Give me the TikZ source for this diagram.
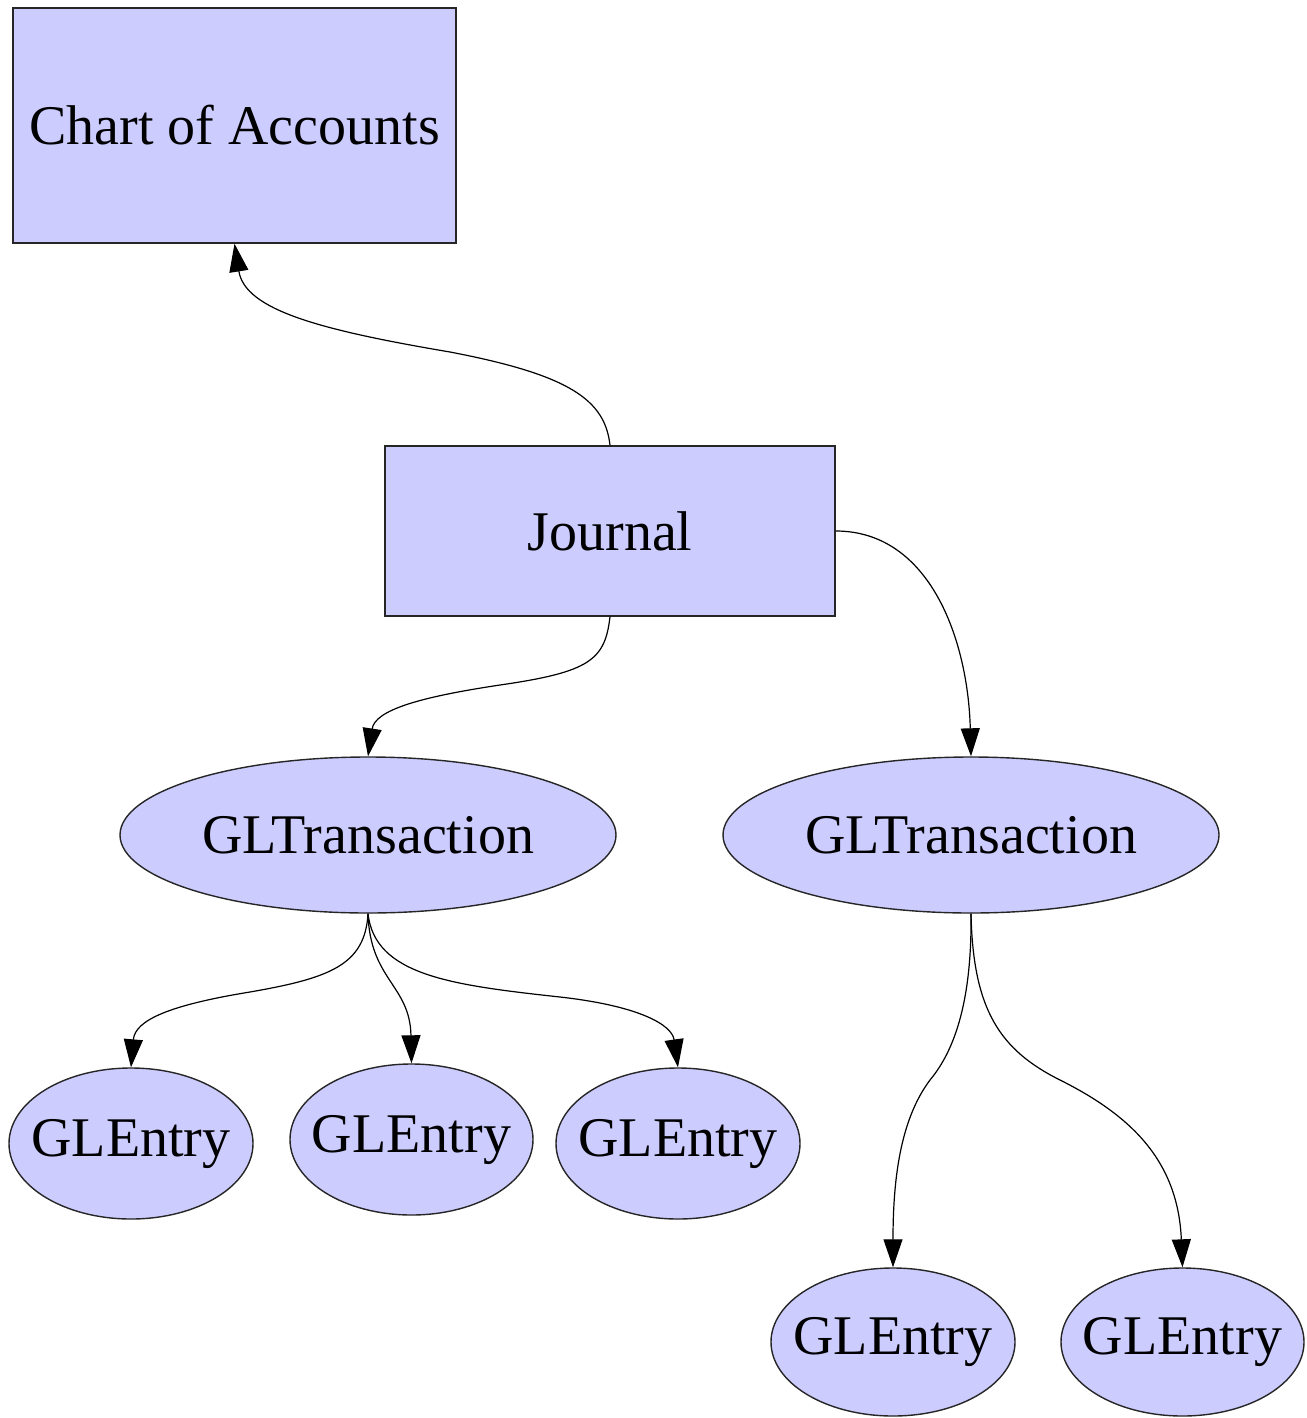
\documentclass[tikz,border=0pt]{standalone}
\usepackage{fontspec}
\setmainfont{Liberation Serif}
\usetikzlibrary{shapes.geometric,arrows.meta}
\definecolor{nodefill}{RGB}{204,204,255}
\newcommand{\ztext}[1]{\makebox[0pt]{#1}}
\begin{document}
\begin{tikzpicture}[x=1pt,y=-1pt,
  base/.style={draw=black!85, line width=1.4pt, fill=nodefill, inner sep=0pt,
    font=\fontsize{56}{60}\selectfont},
  boxnode/.style={base, rectangle},
  ellnode/.style={base, ellipse},
  edge/.style={draw=black, line width=1.2pt, -{Triangle[length=28pt,width=19pt]}}]
\useasboundingbox (0,0) rectangle (1306,1418);
\node[boxnode, minimum width=443pt, minimum height=235pt] (chart) at (234.5,125.5) {Chart of Accounts};
\node[boxnode, minimum width=450pt, minimum height=170pt] (journal) at (610,531) {Journal};
\node[ellnode, minimum width=496pt, minimum height=156pt] (gt1) at (368,835) {\ztext{GLTransaction}};
\node[ellnode, minimum width=496pt, minimum height=156pt] (gt2) at (971,835) {\ztext{GLTransaction}};
\node[ellnode, minimum width=244pt, minimum height=151pt] (e1) at (131,1143.5) {\ztext{GLEntry}};
\node[ellnode, minimum width=243pt, minimum height=151pt] (e2) at (411.5,1139.5) {\ztext{GLEntry}};
\node[ellnode, minimum width=244pt, minimum height=151pt] (e3) at (678,1143.5) {\ztext{GLEntry}};
\node[ellnode, minimum width=244pt, minimum height=148pt] (e4) at (893,1342) {\ztext{GLEntry}};
\node[ellnode, minimum width=243pt, minimum height=148pt] (e5) at (1182.5,1342) {\ztext{GLEntry}};
\draw[edge] (journal.north) .. controls (605,400) and (570,375) .. (450,352)
  .. controls (320,330) and (245,310) .. (chart.south);
\draw[edge] (journal.south) .. controls (605,660) and (590,672) .. (500,685)
  .. controls (420,697) and (375,710) .. (gt1.north);
\draw[edge] (journal.east) .. controls (930,531) and (968,640) .. (gt2.north);
\draw[edge] (gt1.south) .. controls (365,965) and (330,978) .. (250,992)
  .. controls (170,1005) and (135,1020) .. (e1.north);
\draw[edge] (gt1.south) .. controls (370,980) and (410,985) .. (e2.north);
\draw[edge] (gt1.south) .. controls (375,975) and (450,985) .. (560,997)
  .. controls (640,1006) and (672,1025) .. (e3.north);
\draw[edge] (gt2.south) .. controls (972,1000) and (955,1050) .. (930,1080)
  .. controls (900,1120) and (893,1180) .. (e4.north);
\draw[edge] (gt2.south) .. controls (973,1010) and (1000,1050) .. (1060,1080)
  .. controls (1130,1115) and (1178,1160) .. (e5.north);
\end{tikzpicture}
\end{document}
